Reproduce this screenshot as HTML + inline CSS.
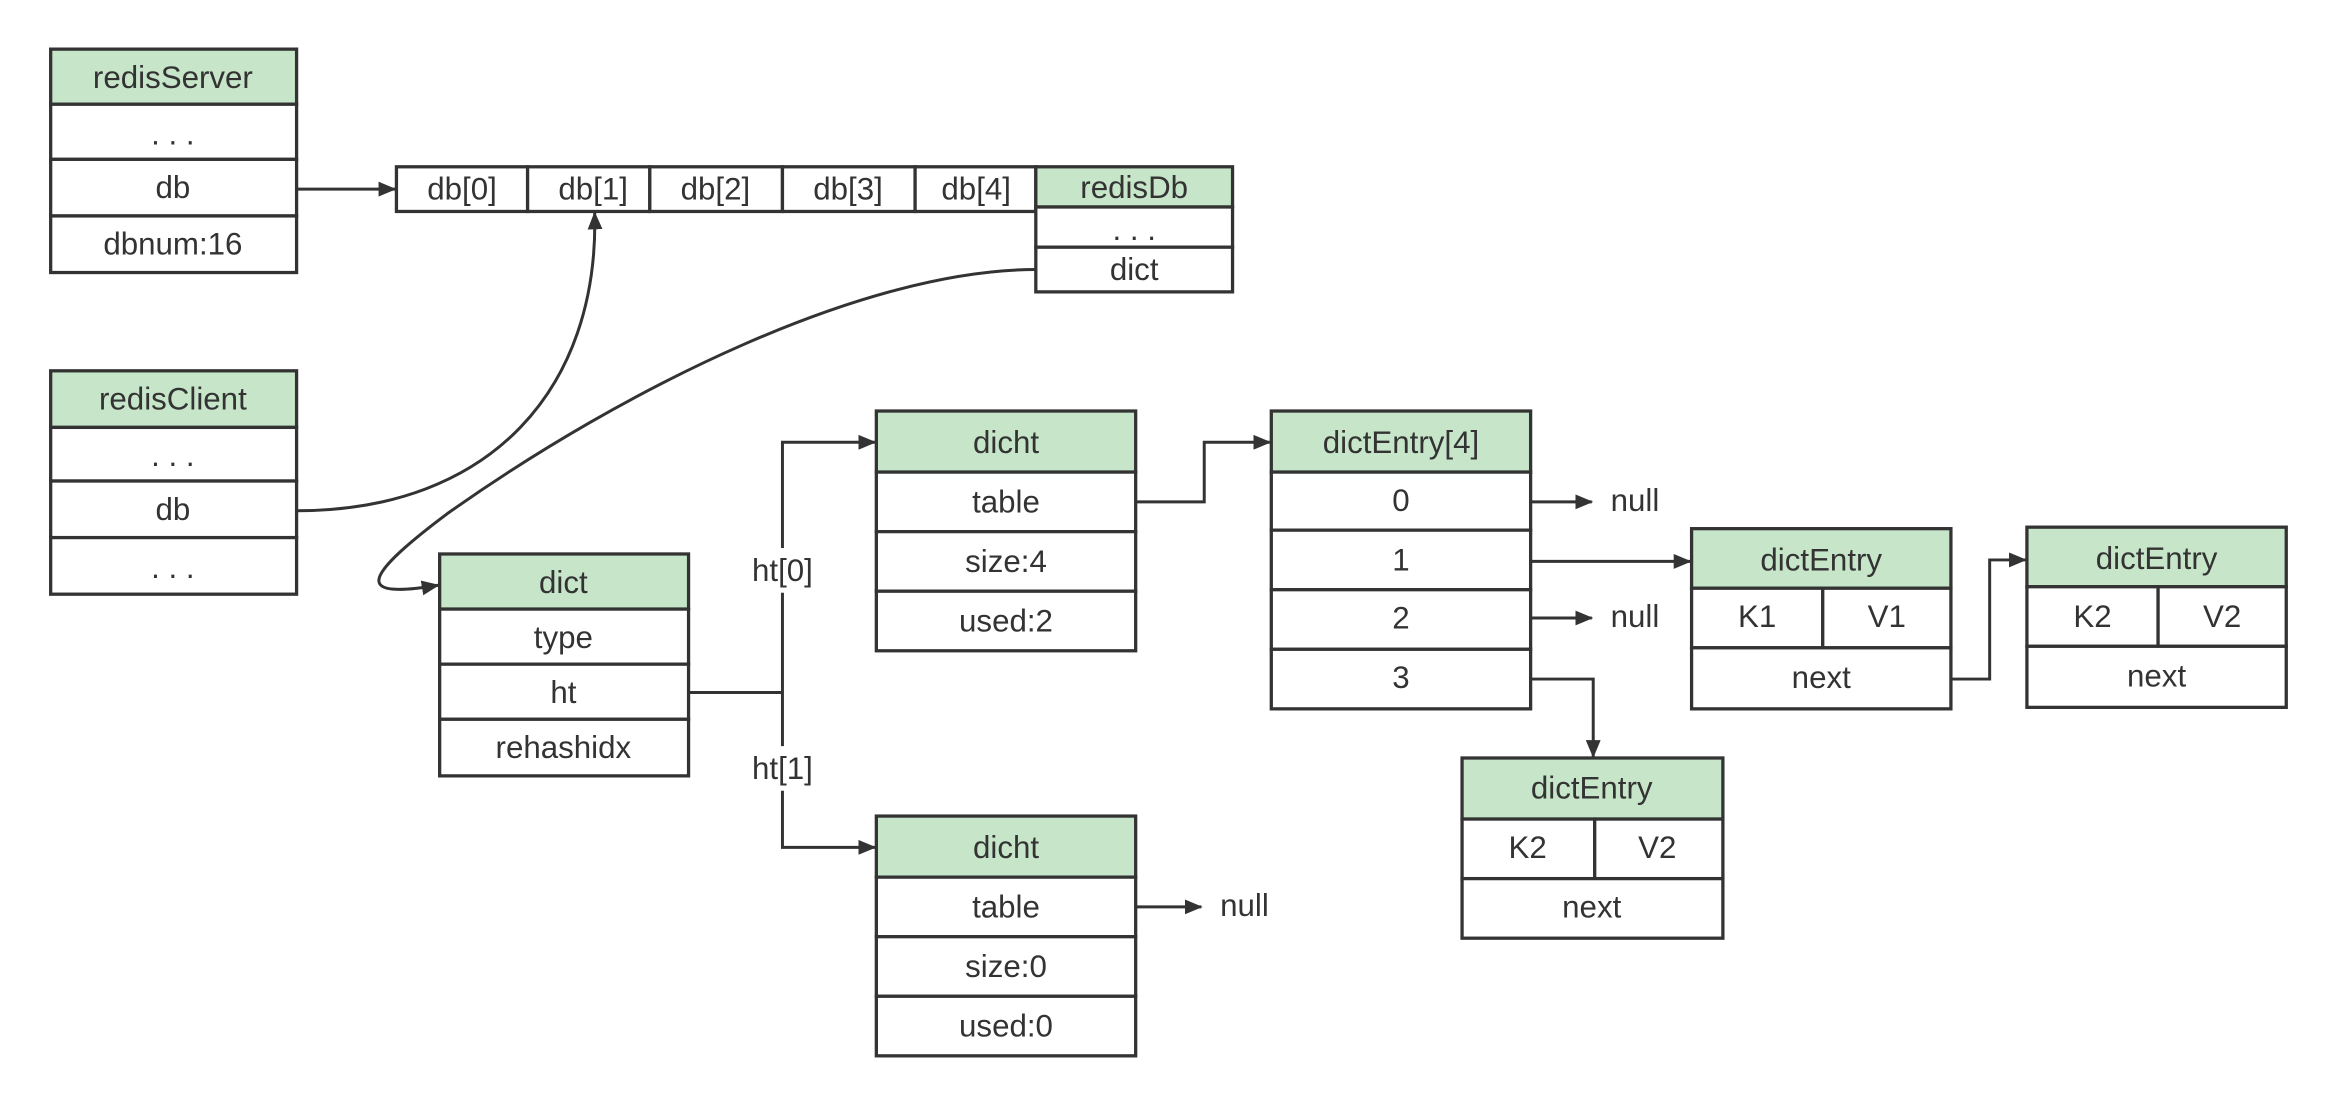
<!DOCTYPE html>
<html><head><meta charset="utf-8"><style>
html,body{margin:0;padding:0;background:#fff;}
svg{display:block;}
text{font-family:"Liberation Sans","Noto Sans CJK SC",sans-serif;font-size:21px;fill:#333;text-anchor:middle;dominant-baseline:central;}
.b{fill:#fff;stroke:#333;stroke-width:2.2;}
.h{fill:#c6e5c9;stroke:#333;stroke-width:2.2;}
.l{fill:none;stroke:#333;stroke-width:2;}
</style></head><body>
<svg width="2325" height="1102" viewBox="0 0 1560 740" preserveAspectRatio="none" xmlns="http://www.w3.org/2000/svg">
<defs><marker id="a" markerWidth="12" markerHeight="10" refX="11" refY="5" orient="auto" markerUnits="userSpaceOnUse"><path d="M0,0 L12,5 L0,10 z" fill="#333"/></marker></defs>

<!-- redisServer -->
<rect class="h" x="34" y="33" width="165" height="37"/><text x="116" y="52">redisServer</text>
<rect class="b" x="34" y="70" width="165" height="37"/><text x="116" y="90">. . .</text>
<rect class="b" x="34" y="107" width="165" height="38"/><text x="116" y="126">db</text>
<rect class="b" x="34" y="145" width="165" height="38"/><text x="116" y="164">dbnum:16</text>

<!-- db array -->
<rect class="b" x="266" y="112" width="88" height="30"/><text x="310" y="127">db[0]</text>
<rect class="b" x="354" y="112" width="82" height="30"/><text x="398" y="127">db[1]</text>
<rect class="b" x="436" y="112" width="89" height="30"/><text x="480" y="127">db[2]</text>
<rect class="b" x="525" y="112" width="89" height="30"/><text x="569" y="127">db[3]</text>
<rect class="b" x="614" y="112" width="81" height="30"/><text x="655" y="127">db[4]</text>
<rect class="h" x="695" y="112" width="132" height="27"/><text x="761" y="126">redisDb</text>
<rect class="b" x="695" y="139" width="132" height="27"/><text x="761" y="154">. . .</text>
<rect class="b" x="695" y="166" width="132" height="30"/><text x="761" y="181">dict</text>
<line class="l" x1="199" y1="127" x2="265" y2="127" marker-end="url(#a)"/>

<!-- redisClient -->
<rect class="h" x="34" y="249" width="165" height="38"/><text x="116" y="268">redisClient</text>
<rect class="b" x="34" y="287" width="165" height="36"/><text x="116" y="306">. . .</text>
<rect class="b" x="34" y="323" width="165" height="38"/><text x="116" y="342">db</text>
<rect class="b" x="34" y="361" width="165" height="38"/><text x="116" y="381">. . .</text>

<path class="l" d="M199,343 C330,343 402,260 399,143" marker-end="url(#a)"/>
<path class="l" d="M695,181 C580,181 420,260 300,345 C240,390 240,402 294,393" marker-end="url(#a)"/>

<!-- dict -->
<rect class="h" x="295" y="372" width="167" height="37"/><text x="378" y="391">dict</text>
<rect class="b" x="295" y="409" width="167" height="37"/><text x="378" y="428">type</text>
<rect class="b" x="295" y="446" width="167" height="37"/><text x="378" y="465">ht</text>
<rect class="b" x="295" y="483" width="167" height="38"/><text x="378" y="502">rehashidx</text>

<line class="l" x1="462" y1="465" x2="525" y2="465"/>
<polyline class="l" points="525,368 525,297 587,297" marker-end="url(#a)"/>
<line class="l" x1="525" y1="398" x2="525" y2="501"/>
<polyline class="l" points="525,531 525,569 587,569" marker-end="url(#a)"/>
<text x="525" y="383">ht[0]</text>
<text x="525" y="516">ht[1]</text>

<!-- dicht 1 -->
<rect class="h" x="588" y="276" width="174" height="41"/><text x="675" y="297">dicht</text>
<rect class="b" x="588" y="317" width="174" height="40"/><text x="675" y="337">table</text>
<rect class="b" x="588" y="357" width="174" height="40"/><text x="675" y="377">size:4</text>
<rect class="b" x="588" y="397" width="174" height="40"/><text x="675" y="417">used:2</text>
<polyline class="l" points="762,337 808,337 808,297 852,297" marker-end="url(#a)"/>

<!-- dicht 2 -->
<rect class="h" x="588" y="548" width="174" height="41"/><text x="675" y="569">dicht</text>
<rect class="b" x="588" y="589" width="174" height="40"/><text x="675" y="609">table</text>
<rect class="b" x="588" y="629" width="174" height="40"/><text x="675" y="649">size:0</text>
<rect class="b" x="588" y="669" width="174" height="40"/><text x="675" y="689">used:0</text>
<line class="l" x1="762" y1="609" x2="806" y2="609" marker-end="url(#a)"/>
<text x="835" y="608">null</text>

<!-- dictEntry[4] -->
<rect class="h" x="853" y="276" width="174" height="41"/><text x="940" y="297">dictEntry[4]</text>
<rect class="b" x="853" y="317" width="174" height="39"/><text x="940" y="336">0</text>
<rect class="b" x="853" y="356" width="174" height="40"/><text x="940" y="376">1</text>
<rect class="b" x="853" y="396" width="174" height="40"/><text x="940" y="415">2</text>
<rect class="b" x="853" y="436" width="174" height="40"/><text x="940" y="455">3</text>
<line class="l" x1="1027" y1="337" x2="1068" y2="337" marker-end="url(#a)"/><text x="1097" y="336">null</text>
<line class="l" x1="1027" y1="377" x2="1134" y2="377" marker-end="url(#a)"/>
<line class="l" x1="1027" y1="415" x2="1068" y2="415" marker-end="url(#a)"/><text x="1097" y="414">null</text>
<polyline class="l" points="1027,456 1069,456 1069,508" marker-end="url(#a)"/>

<!-- dictEntry A -->
<rect class="h" x="1135" y="355" width="174" height="40"/><text x="1222" y="376">dictEntry</text>
<rect class="b" x="1135" y="395" width="88" height="40"/><text x="1179" y="414">K1</text>
<rect class="b" x="1223" y="395" width="86" height="40"/><text x="1266" y="414">V1</text>
<rect class="b" x="1135" y="435" width="174" height="41"/><text x="1222" y="455">next</text>
<polyline class="l" points="1309,456 1335,456 1335,376 1359,376" marker-end="url(#a)"/>

<!-- dictEntry B -->
<rect class="h" x="1360" y="354" width="174" height="40"/><text x="1447" y="375">dictEntry</text>
<rect class="b" x="1360" y="394" width="88" height="40"/><text x="1404" y="414">K2</text>
<rect class="b" x="1448" y="394" width="86" height="40"/><text x="1491" y="414">V2</text>
<rect class="b" x="1360" y="434" width="174" height="41"/><text x="1447" y="454">next</text>

<!-- dictEntry C -->
<rect class="h" x="981" y="509" width="175" height="41"/><text x="1068" y="529">dictEntry</text>
<rect class="b" x="981" y="550" width="89" height="40"/><text x="1025" y="569">K2</text>
<rect class="b" x="1070" y="550" width="86" height="40"/><text x="1112" y="569">V2</text>
<rect class="b" x="981" y="590" width="175" height="40"/><text x="1068" y="609">next</text>
</svg>
</body></html>
